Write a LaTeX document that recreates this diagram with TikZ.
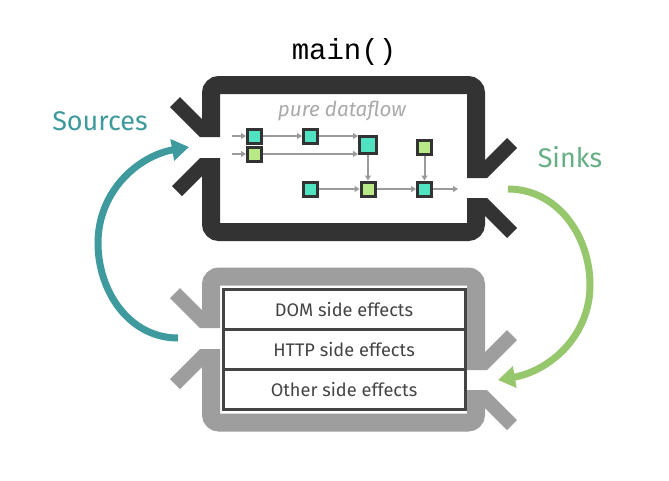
\documentclass[tikz,border=0pt]{standalone}
\usepackage{fontspec}
\setmainfont{Fira Sans}
\setmonofont{Liberation Mono}
\usetikzlibrary{arrows.meta}
\definecolor{dark}{HTML}{333333}
\definecolor{lgray}{HTML}{9E9E9E}
\definecolor{flowgray}{HTML}{9B9B9B}
\definecolor{mint}{HTML}{50E3C2}
\definecolor{lime}{HTML}{B8E986}
\definecolor{tealc}{HTML}{3E9A9C}
\definecolor{greenc}{HTML}{97C76C}
\definecolor{sinkc}{HTML}{66AE84}
\definecolor{tablec}{HTML}{444444}
\definecolor{labelgray}{HTML}{AAAAAA}
\tikzset{
  sq/.style={draw=dark, line width=3pt, minimum size=14pt, inner sep=0pt},
  sqm/.style={sq, fill=mint},
  sql/.style={sq, fill=lime},
  flow/.style={draw=flowgray, line width=2pt, -{Triangle[length=5pt,width=6pt]}},
  bigteal/.style={draw=tealc, line width=7pt, -{Triangle[length=17pt,width=21pt]}},
  biggreen/.style={draw=greenc, line width=7pt, -{Triangle[length=17pt,width=21pt]}},
  rowbox/.style={draw=tablec, line width=3pt, minimum width=242pt, minimum height=40.3pt, inner sep=0pt,
    font=\fontsize{18.2}{20}\selectfont, text=tablec},
}
\begin{document}
\begin{tikzpicture}[x=1pt,y=-1pt]
\useasboundingbox (0,0) rectangle (669,480);
\fill[white] (0,0) rectangle (669,480);

% ---- top frame (main) ----
\draw[line width=18pt, dark, rounded corners=8pt] (211,85) rectangle (476,232);
\fill[white] (199,137) rectangle (224,158);
\fill[white] (463,178) rectangle (489,198);
\fill[dark] (220,137)--(180,97)--(170,107)--(200,137)--cycle;
\fill[dark] (220,158)--(182,196)--(172,186)--(200,158)--cycle;
\fill[dark] (467,178)--(507,138)--(517,148)--(487,178)--cycle;
\fill[dark] (467,198)--(507,238)--(517,228)--(487,198)--cycle;

% ---- bottom frame (side effects) ----
\draw[line width=18pt, lgray, rounded corners=8pt] (211,276.5) rectangle (476,422.5);
\fill[white] (199,328) rectangle (224,349);
\fill[white] (463,370) rectangle (489,390);
\fill[lgray] (220,328)--(180,288)--(170,298)--(200,328)--cycle;
\fill[lgray] (220,349)--(180,389)--(170,379)--(200,349)--cycle;
\fill[lgray] (467,370)--(507,330)--(517,340)--(487,370)--cycle;
\fill[lgray] (467,390)--(507,430)--(517,420)--(487,390)--cycle;

% ---- labels ----
\node (title) at (344,52) {\ttfamily\fontsize{29}{30}\selectfont main()};
\node (pure) at (342,111) {\itshape\fontsize{20.6}{22}\selectfont\color{labelgray} pure dataflow};
\node (sources) at (100,121) {\fontsize{27}{28}\selectfont\color{tealc} Sources};
\node (sinks) at (570,157) {\fontsize{27}{28}\selectfont\color{sinkc} Sinks};

% ---- dataflow squares ----
\node[sqm] (a) at (254.5,136) {};
\node[sql] (b) at (254.5,154) {};
\node[sqm] (c) at (310.5,136) {};
\node[sqm, minimum size=17pt] (d) at (368,145) {};
\node[sql] (e) at (424.5,147.5) {};
\node[sqm] (f) at (310.5,189) {};
\node[sql] (g) at (368,189) {};
\node[sqm] (h) at (424.5,189) {};
\coordinate (in1) at (232,136);
\coordinate (in2) at (232,154);
\coordinate (out) at (458,189);

\draw[flow] (in1) -- (a.west);
\draw[flow] (in2) -- (b.west);
\draw[flow] (a.east) -- (c.west);
\draw[flow] (c.east) -- (c.east -| d.west);
\draw[flow] (b.east) -- (b.east -| d.west);
\draw[flow] (d.south) -- (g.north);
\draw[flow] (e.south) -- (h.north);
\draw[flow] (f.east) -- (g.west);
\draw[flow] (g.east) -- (h.west);
\draw[flow] (h.east) -- (out);

% ---- side effects table ----
\node[rowbox] (dom) at (344,309.2) {DOM side effects};
\node[rowbox] (http) at (344,349.5) {HTTP side effects};
\node[rowbox] (other) at (344,389.8) {Other side effects};

% ---- big arrows ----
\coordinate (srcS) at (178,338);
\coordinate (srcM) at (98,243);
\coordinate (srcT) at (189,147);
\draw[bigteal] (srcS) to[out=180,in=-90] (srcM) to[out=90,in=190] (srcT);
\coordinate (snkS) at (508,189);
\coordinate (snkM) at (590,285);
\coordinate (snkT) at (498,380);
\draw[biggreen] (snkS) to[out=0,in=90] (snkM) to[out=-90,in=10] (snkT);
\end{tikzpicture}
\end{document}
